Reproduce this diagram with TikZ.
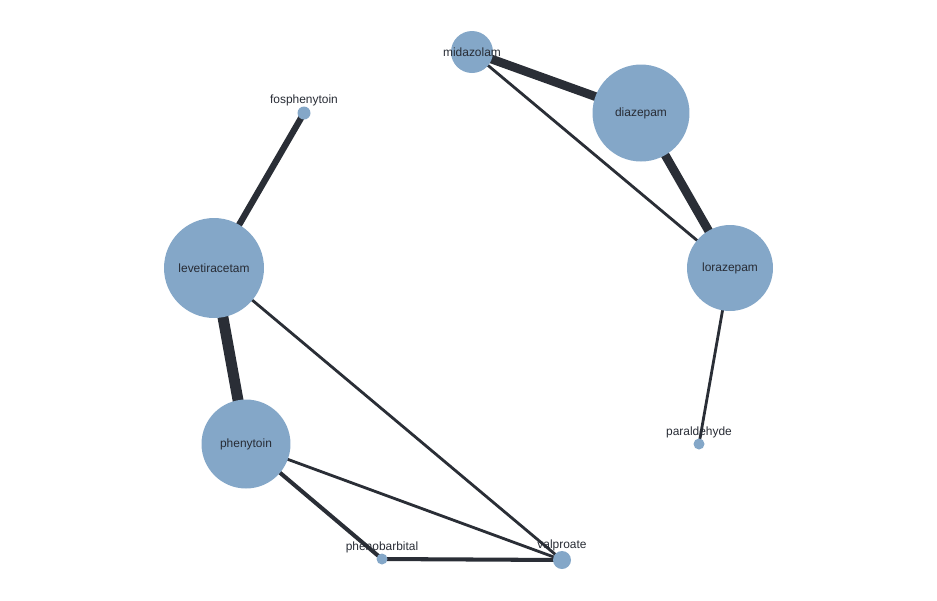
\documentclass[tikz,border=0pt]{standalone}
\usepackage{fontspec}
\setmainfont{Liberation Sans}
\usetikzlibrary{backgrounds}
\definecolor{drugblue}{HTML}{84A7C8}
\definecolor{linkdark}{HTML}{2A2E36}
\definecolor{labeldark}{HTML}{272B34}
\begin{document}
\begin{tikzpicture}[
		x=0.02cm, y=-0.02cm,
		every node/.style={font=\fontsize{6.8pt}{8pt}\selectfont, text=labeldark},
		drug/.style={circle, fill=drugblue, inner sep=0pt},
		tag/.style={inner sep=0.4pt, text=labeldark},
		link/.style={draw=linkdark, line width=1.6pt},
		midlink/.style={draw=linkdark, line width=2.3pt},
		boldlink/.style={draw=linkdark, line width=3.6pt},
		heavylink/.style={draw=linkdark, line width=5pt},
		hugelink/.style={draw=linkdark, line width=6.2pt}
		]
		
		\useasboundingbox (0,0) rectangle (937,600);
		
		% Draw drug nodes
		\node[drug, minimum size=0.84cm, label={[tag]center:midazolam}] (midazolam) at (472, 52) {};
		\node[drug, minimum size=1.94cm] (diazepam) at (641, 113) {diazepam};
		\node[drug, minimum size=1.72cm] (lorazepam) at (730, 268) {lorazepam};
		\node[drug, minimum size=2.0cm] (levetiracetam) at (214, 268) {levetiracetam};
		\node[drug, minimum size=1.78cm] (phenytoin) at (246, 444) {phenytoin};
		
		% Small nodes carry their names above
		\node[drug, minimum size=0.26cm, label={[tag, label distance=-0.5pt]above:fosphenytoin}] (fosphenytoin) at (304, 113) {};
		\node[drug, minimum size=0.22cm, label={[tag, label distance=-0.5pt]above:paraldehyde}] (paraldehyde) at (699, 444) {};
		\node[drug, minimum size=0.22cm, label={[tag, label distance=-0.5pt]above:phenobarbital}] (phenobarbital) at (382, 559) {};
		\node[drug, minimum size=0.36cm, label={[tag, label distance=-0.5pt]above:valproate}] (valproate) at (562, 560) {};
		
		% Draw links behind the nodes
		\begin{pgfonlayer}{background}
			\draw[heavylink] (midazolam.center) -- (diazepam.center);
			\draw[heavylink] (diazepam.center) -- (lorazepam.center);
			\draw[link] (midazolam.center) -- (lorazepam.center);
			\draw[link] (lorazepam.center) -- (paraldehyde.center);
			\draw[boldlink] (fosphenytoin.center) -- (levetiracetam.center);
			\draw[hugelink] (levetiracetam.center) -- (phenytoin.center);
			\foreach \x in {levetiracetam, phenytoin} {
				\draw[link] (\x.center) -- (valproate.center);
			}
			\draw[midlink] (phenytoin.center) -- (phenobarbital.center);
			\draw[midlink] (phenobarbital.center) -- (valproate.center);
		\end{pgfonlayer}
		
	\end{tikzpicture}
\end{document}
